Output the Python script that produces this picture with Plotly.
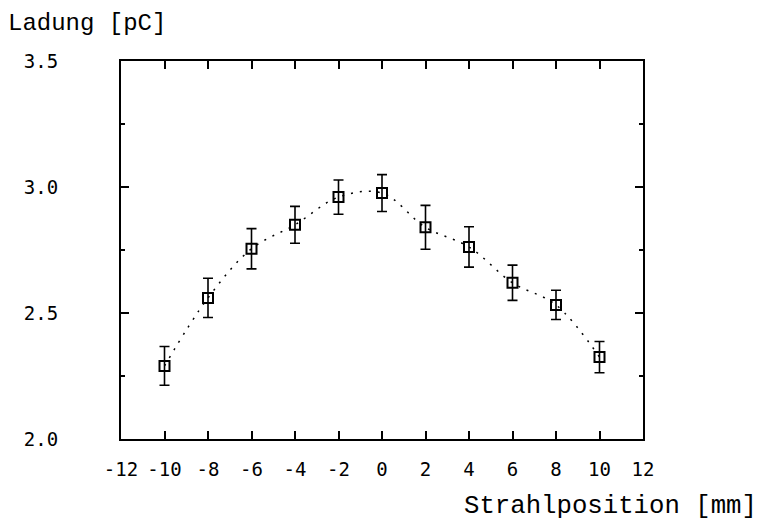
import plotly.graph_objects as go

# Data
positions = [-10, -8, -6, -4, -2, 0, 2, 4, 6, 8, 10]
charge = [2.29, 2.56, 2.755, 2.85, 2.96, 2.976, 2.84, 2.762, 2.62, 2.532, 2.325]
charge_err = [0.077, 0.078, 0.08, 0.073, 0.068, 0.073, 0.087, 0.08, 0.07, 0.058, 0.062]

x_tickvals = [-12, -10, -8, -6, -4, -2, 0, 2, 4, 6, 8, 10, 12]
x_ticktext = ["-12", "-10", "-8", "-6", "-4", "-2", "0", "2", "4", "6", "8", "10", "12"]
y_tickvals = [2.0, 2.5, 3.0, 3.5]
y_ticktext = ["2.0", "2.5", "3.0", "3.5"]

ylabel = "Ladung [pC]"
xlabel = "Strahlposition [mm]"

fig = go.Figure()
fig.add_trace(go.Scatter(
    x=positions, y=charge,
    mode="lines",
    line=dict(color="black", width=1.5, dash="2px,7px", shape="spline"),
    hoverinfo="skip", showlegend=False,
))
fig.add_trace(go.Scatter(
    x=positions, y=charge,
    mode="markers",
    marker=dict(symbol="square-open", size=10, color="black", line=dict(width=2, color="black")),
    error_y=dict(type="data", array=charge_err, visible=True, color="black", thickness=1.6, width=5),
    showlegend=False,
))

tickfont = dict(family="DejaVu Sans Mono", size=19, color="black")
fig.update_xaxes(
    range=[-12, 12], tickvals=x_tickvals, ticktext=x_ticktext,
    ticks="inside", ticklen=8, tickwidth=1.5, tickcolor="black",
    showline=True, linecolor="black", linewidth=2, mirror="ticks",
    showgrid=False, zeroline=False, tickfont=tickfont, ticklabelstandoff=12,
)
fig.update_yaxes(
    range=[2.0, 3.5], tickvals=y_tickvals, ticktext=y_ticktext,
    ticks="inside", ticklen=8, tickwidth=1.5, tickcolor="black",
    minor=dict(dtick=0.25, ticks="inside", ticklen=4, tickcolor="black"),
    showline=True, linecolor="black", linewidth=2, mirror="ticks",
    showgrid=False, zeroline=False, tickfont=tickfont, ticklabelstandoff=57,
)

fig.add_annotation(
    text=ylabel, xref="paper", yref="paper", x=0.0, y=1.0,
    xanchor="left", yanchor="bottom", xshift=-115, yshift=22, showarrow=False,
    font=dict(family="Liberation Mono", size=24, color="black"),
)
fig.add_annotation(
    text=xlabel, xref="paper", yref="paper", x=1.0, y=0.0,
    xanchor="left", yanchor="top", xshift=-181, yshift=-51, showarrow=False,
    font=dict(family="Liberation Mono", size=25.7, color="black"),
)

fig.update_layout(
    width=757, height=523,
    margin=dict(l=121, r=114, t=61, b=84),
    paper_bgcolor="white", plot_bgcolor="white",
)

fig.write_html("out.html")
